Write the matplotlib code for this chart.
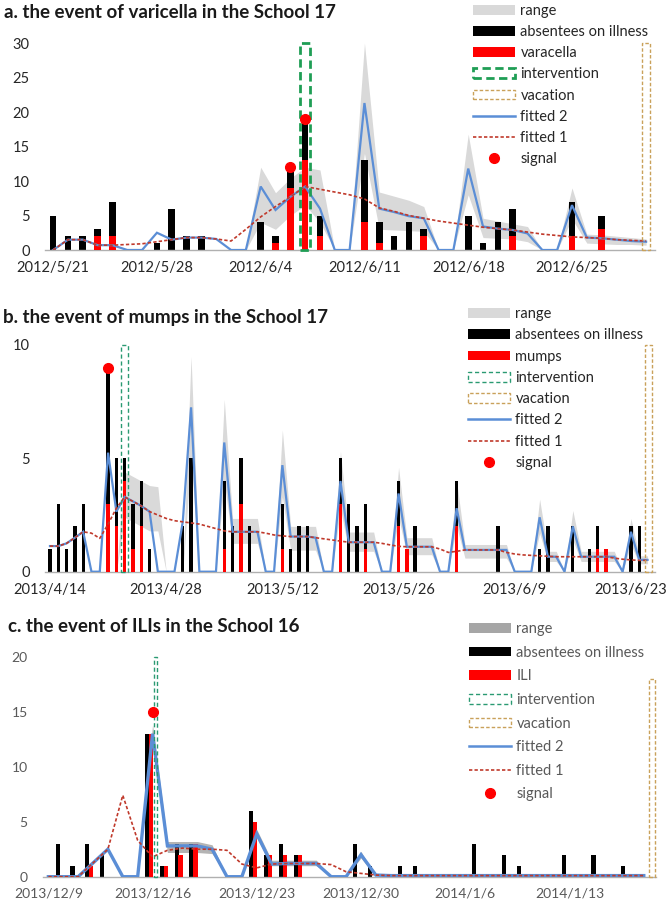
import matplotlib
matplotlib.use('Agg')
import matplotlib.pyplot as plt
from matplotlib.patches import Patch, Rectangle
from matplotlib.lines import Line2D
import numpy as np
import pandas as pd

plt.rcParams['font.family'] = ['Lato', 'DejaVu Sans']

W, H = 672, 907
BLUE = '#5b8ed6'
DRED = '#c0392b'

# ---------------- a. varicella, School 17 (daily from 2012/5/21) ----------------
start_a = '2012-05-21'
absent_a = [5, 2, 2, 3, 7, 0, 0,
            1, 6, 2, 2, 0, 0, 0,
            4, 2, 12, 19, 5, 0, 0,
            13, 4, 2, 4, 3, 0, 0,
            5, 1, 4, 6, 0, 0, 0,
            7, 0, 5, 0, 0, 0]
varic_a = [0, 0, 0, 2, 2, 0, 0,
           0, 0, 0, 0, 0, 0, 0,
           0, 1, 9, 13, 2, 0, 0,
           4, 1, 0, 0, 2, 0, 0,
           0, 0, 0, 2, 0, 0, 0,
           2, 0, 3, 0, 0, 0]
fit2_a = [0, 1.5, 1.5, 0.7, 0.7, 0, 0,
          2.5, 1.5, 1.8, 1.8, 1.6, 0, 0,
          9.2, 5.8, 7.7, 9.2, 6.0, 0, 0,
          21.3, 6.0, 5.5, 4.9, 4.6, 0, 0,
          11.8, 3.4, 3.1, 2.9, 2.4, 0, 0,
          6.5, 1.8, 1.7, 1.5, 1.3, 1.2]
fit1_a = [0, 1.5, 1.5, 0.7, 0.7, 0.8, 0.9,
          1.2, 1.5, 1.8, 1.8, 1.6, 1.3, 3.0,
          4.8, 6.3, 7.7, 9.2, 8.8, 8.4, 8.0,
          7.4, 6.1, 5.6, 5.0, 4.6, 4.2, 3.9,
          3.6, 3.3, 3.1, 2.9, 2.6, 2.3, 2.1,
          1.9, 1.8, 1.7, 1.5, 1.4, 1.3]
lo_a = [0, 0, 0, 0, 0, 0, 0,
        0, 0, 0, 0, 0, 0, 0,
        4.0, 3.0, 5.0, 6.5, 4.0, 0, 0,
        14.0, 3.0, 2.9, 2.8, 2.7, 0, 0,
        8.0, 1.8, 1.7, 1.6, 1.2, 0, 0,
        4.5, 1.0, 0.9, 0.8, 0.8, 0.7]
hi_a = [0, 0, 0, 0, 0, 0, 0,
        0, 0, 0, 0, 0, 0, 0,
        12.0, 8.3, 10.4, 12.0, 11.6, 0, 0,
        30.0, 8.4, 7.8, 7.2, 6.3, 0, 0,
        16.8, 4.6, 4.2, 3.8, 3.4, 0, 0,
        9.0, 2.3, 2.2, 2.0, 1.8, 1.6]
signal_day_a = [16, 17]
signal_val_a = [12, 19]
interv_a, interv_h_a = 17, 30
vac_a, vac_h_a = 40, 30
ticks_a = ['2012/5/21', '2012/5/28', '2012/6/4', '2012/6/11', '2012/6/18', '2012/6/25']

# ---------------- b. mumps, School 17 (daily from 2013/4/14) ----------------
start_b = '2013-04-14'
absent_b = [1, 3, 1, 2, 3, 0, 0,
            9, 5, 5, 3, 4, 1, 0,
            0, 0, 2, 5, 0, 0, 0,
            4, 2, 5, 2, 0, 0, 0,
            3, 1, 2, 2, 0, 0, 0,
            5, 3, 2, 3, 0, 0, 0,
            4, 1, 2, 0, 0, 0, 0,
            4, 0, 0, 0, 0, 2, 0,
            0, 0, 0, 1, 2, 0, 0,
            2, 0, 1, 2, 1, 0, 0,
            2, 2, 0]
mumps_b = [0, 0, 0, 0, 0, 0, 0,
           3, 2, 4, 1, 2, 0, 0,
           0, 0, 0, 0, 0, 0, 0,
           1, 0, 3, 0, 0, 0, 0,
           1, 0, 0, 0, 0, 0, 0,
           3, 0, 0, 1, 0, 0, 0,
           2, 1, 0, 0, 0, 0, 0,
           2, 0, 0, 0, 0, 0, 0,
           0, 0, 0, 0, 0, 0, 0,
           0, 0, 0, 1, 1, 0, 0,
           0, 0, 0]
fit2_b = [1.13, 1.13, 1.25, 1.5, 1.76, 0, 0,
          5.25, 2.65, 3.3, 3.1, 2.9, 2.65, 0,
          0, 0, 2.2, 7.25, 0, 0, 0,
          5.7, 1.76, 1.76, 1.76, 1.76, 0, 0,
          4.7, 1.55, 1.55, 1.55, 1.5, 0, 0,
          4.0, 1.3, 1.3, 1.3, 1.3, 0, 0,
          3.45, 1.1, 1.1, 1.1, 1.1, 0, 0,
          2.8, 0.96, 0.96, 0.96, 0.96, 0.96, 0.96,
          0, 0, 0, 2.4, 0.66, 0.66, 0,
          2.0, 0.66, 0.66, 0.66, 0.66, 0.66, 0,
          1.76, 0.52, 0.52]
fit1_b = [1.13, 1.13, 1.25, 1.5, 1.76, 1.7, 1.47,
          2.1, 2.8, 3.3, 3.1, 2.9, 2.65, 2.5,
          2.35, 2.25, 2.2, 2.15, 2.1, 2.0, 1.9,
          1.8, 1.76, 1.76, 1.76, 1.76, 1.7, 1.62,
          1.58, 1.55, 1.55, 1.55, 1.5, 1.45, 1.4,
          1.35, 1.3, 1.3, 1.3, 1.3, 1.25, 1.18,
          1.12, 1.1, 1.1, 1.1, 1.1, 1.0, 0.85,
          0.9, 0.96, 0.96, 0.96, 0.96, 0.96, 0.85,
          0.78, 0.74, 0.72, 0.7, 0.68, 0.66, 0.66,
          0.66, 0.66, 0.66, 0.66, 0.66, 0.6, 0.55,
          0.52, 0.5, 0.5]
lo_b = [0, 0, 0, 0, 0, 0, 0,
        0, 0, 2.4, 2.2, 2.0, 1.8, 1.8,
        0, 0, 0, 5.0, 0, 0, 0,
        4.0, 1.25, 1.25, 1.25, 1.25, 0, 0,
        3.3, 0.95, 0.95, 0.95, 0.95, 0, 0,
        2.8, 0.9, 0.9, 0.9, 0.9, 0, 0,
        2.4, 0.75, 0.75, 0.75, 0.75, 0, 0,
        2.0, 0.6, 0.6, 0.6, 0.6, 0.6, 0.6,
        0, 0, 0, 1.7, 0.45, 0.45, 0,
        1.4, 0.45, 0.45, 0.45, 0.45, 0.45, 0,
        1.2, 0.35, 0.35]
hi_b = [0, 0, 0, 0, 0, 0, 0,
        0, 0, 4.4, 4.2, 4.0, 3.8, 3.75,
        0, 0, 0, 9.5, 0, 0, 0,
        7.6, 2.35, 2.35, 2.35, 2.35, 0, 0,
        6.25, 2.0, 2.0, 2.0, 2.0, 0, 0,
        5.3, 1.75, 1.75, 1.75, 1.75, 0, 0,
        4.6, 1.5, 1.5, 1.5, 1.5, 0, 0,
        4.0, 1.2, 1.2, 1.2, 1.2, 1.2, 1.2,
        0, 0, 0, 3.2, 0.9, 0.9, 0,
        2.7, 0.9, 0.9, 0.9, 0.9, 0.9, 0,
        2.35, 0.7, 0.7]
signal_day_b = [7]
signal_val_b = [9]
interv_b, interv_h_b = 9, 10
vac_b, vac_h_b = 72, 10
ticks_b = ['2013/4/14', '2013/4/28', '2013/5/12', '2013/5/26', '2013/6/9', '2013/6/23']

# ---------------- c. ILIs, School 16 (daily from 2013/12/9) ----------------
start_c = '2013-12-09'
absent_c = [3, 1, 3, 2, 0, 0, 13,
            1, 3, 3, 0, 0, 0, 6,
            2, 3, 2, 0, 0, 0, 3,
            1, 0, 1, 1, 0, 0, 0,
            3, 0, 2, 1, 0, 0, 2,
            0, 2, 0, 1, 0, 0]
ili_c = [0, 0, 1, 0, 0, 0, 13,
         1, 2, 3, 0, 0, 0, 5,
         2, 2, 2, 0, 0, 0, 0,
         0, 0, 0, 0, 0, 0, 0,
         0, 0, 0, 0, 0, 0, 0,
         0, 0, 0, 0, 0, 0]
fit2_c = [0, 0, 0, 1.25, 2.5, 0, 0,
          13.0, 2.8, 2.8, 2.8, 2.5, 0, 0,
          3.9, 1.15, 1.2, 1.2, 1.2, 0, 0,
          2.0, 0.15, 0.1, 0.1, 0.1, 0.1, 0.1,
          0.1, 0.1, 0.1, 0.1, 0.1, 0.1, 0.1,
          0.1, 0.1, 0.1, 0.1, 0.1, 0.1]
fit1_c = [0, 0, 0, 1.25, 2.5, 7.4, 3.3,
          1.8, 2.4, 2.6, 2.5, 2.5, 2.4, 1.15,
          0.8, 1.15, 1.2, 1.2, 1.2, 1.1, 0.45,
          0.3, 0.15, 0.1, 0.1, 0.1, 0.1, 0.1,
          0.1, 0.1, 0.1, 0.1, 0.1, 0.1, 0.1,
          0.1, 0.1, 0.1, 0.1, 0.1, 0.1]
lo_c = [0, 0, 0, 0, 0, 0, 0,
        12.3, 2.2, 2.2, 2.2, 2.1, 0, 0,
        3.5, 1.0, 1.0, 1.0, 1.0, 0, 0,
        1.7, 0, 0, 0, 0, 0, 0,
        0, 0, 0, 0, 0, 0, 0,
        0, 0, 0, 0, 0, 0]
hi_c = [0, 0, 0, 0, 0, 0, 0,
        13.8, 3.2, 3.2, 3.2, 2.9, 0, 0,
        4.3, 1.5, 1.5, 1.5, 1.5, 0, 0,
        2.3, 0, 0, 0, 0, 0, 0,
        0, 0, 0, 0, 0, 0, 0,
        0, 0, 0, 0, 0, 0]
signal_day_c = [7]
signal_val_c = [15]
interv_c, interv_h_c = 7, 20
vac_c, vac_h_c = 40, 18
ticks_c = ['2013/12/9', '2013/12/16', '2013/12/23', '2013/12/30', '2014/1/6', '2014/1/13']


def rect(x, y, w, h):
    # pixel box (from top-left) -> figure fraction
    return [x / W, 1 - (y + h) / H, w / W, h / H]


def draw_panel(ax, start, absent, disease, fit2, fit1, lo, hi, sig_day, sig_val,
               interv, interv_h, vac, vac_h, tick_labels, yticks, xlim, st):
    days = np.arange(len(absent))
    dates = pd.date_range(start, periods=len(absent))

    ax.fill_between(days, lo, hi, color=st['band'], lw=0, zorder=1)
    ax.bar(days + st['boff'], absent, width=st['bw'], color='black', zorder=2)
    ax.bar(days + st['roff'], disease, width=st['bw'], color='#ff0000', zorder=3)
    ax.plot(days, fit2, color=BLUE, lw=st['lw2'], zorder=4, solid_joinstyle='miter')
    ax.plot(days, fit1, color=DRED, lw=1.2, ls=(0, (2, 1.3)), zorder=5)

    iw = st['iw']
    ax.add_patch(Rectangle((interv + st['ioff'] - iw / 2, 0), iw, interv_h, fill=False,
                           ec=st['icol'], lw=st['ilw'], ls=st['ils'], zorder=6, clip_on=False))
    vw = st['vw']
    ax.add_patch(Rectangle((vac + st['voff'] - vw / 2, 0), vw, vac_h, fill=False,
                           ec='#c9a15a', lw=1.0, ls=(0, (2.5, 1.5)), zorder=6, clip_on=False))
    ax.plot(sig_day, sig_val, 'o', color='#ff0000', ms=7, zorder=7, clip_on=False)

    ax.set_xlim(*xlim)
    ax.set_ylim(0, yticks[-1])
    ax.set_yticks(yticks)
    ax.set_xticks([dates.get_loc(pd.Timestamp(t)) for t in tick_labels])
    ax.set_xticklabels(tick_labels)
    for s in ['top', 'right', 'left']:
        ax.spines[s].set_visible(False)
    ax.spines['bottom'].set_color('#b0b0b0')
    ax.spines['bottom'].set_linewidth(1.0)
    ax.tick_params(length=0, labelsize=st['fs'], colors=st['tc'])
    ax.tick_params(axis='y', pad=11)
    ax.tick_params(axis='x', pad=8)
    ax.patch.set_alpha(0)


def legend(fig, label, st, x, y, spacing):
    handles = [
        Patch(fc=st['lband'], ec='none'),
        Patch(fc='black', ec='none'),
        Patch(fc='#ff0000', ec='none'),
        Patch(fc='white', ec=st['icol'], lw=st['ilw'], ls=st['ils']),
        Patch(fc='white', ec='#c9a15a', lw=1.0, ls=(0, (2.5, 1.5))),
        Line2D([], [], color=BLUE, lw=1.8),
        Line2D([], [], color=DRED, lw=1.2, ls=(0, (2, 1.3))),
        Line2D([], [], marker='o', color='#ff0000', ls='none', ms=7),
    ]
    labels = ['range', 'absentees on illness', label, 'intervention', 'vacation',
              'fitted 2', 'fitted 1', 'signal']
    leg = fig.legend(handles, labels, loc='upper left', bbox_to_anchor=(x / W, 1 - y / H),
                     frameon=False, fontsize=10.5, handlelength=2.9, handleheight=0.65,
                     handletextpad=0.35, labelspacing=spacing, borderpad=0, borderaxespad=0)
    for t in leg.get_texts():
        t.set_color(st['lc'])


fig = plt.figure(figsize=(W / 100, H / 100), dpi=100)

st_a = dict(band='#d9d9d9', lband='#d9d9d9', bw=0.45, boff=0, roff=0, lw2=1.6,
            iw=0.65, ioff=0, icol='#1f9e55', ilw=2.0, ils=(0, (3, 1.6)),
            vw=0.5, voff=0, fs=10.5, tc='#262626', lc='#262626')
st_b = dict(band='#d9d9d9', lband='#d9d9d9', bw=0.4, boff=0, roff=0, lw2=1.6,
            iw=0.8, ioff=0, icol='#2a9a72', ilw=1.0, ils=(0, (3, 2)),
            vw=0.8, voff=0.1, fs=10.5, tc='#262626', lc='#262626')
st_c = dict(band='#b4b4b4', lband='#a6a6a6', bw=0.28, boff=0.62, roff=0.88, lw2=2.4,
            iw=0.22, ioff=0.2, icol='#2a9a72', ilw=1.0, ils=(0, (3, 2)),
            vw=0.35, voff=0.55, fs=10, tc='#595959', lc='#595959')

ax_a = fig.add_axes(rect(45, 43, 610, 207))
draw_panel(ax_a, start_a, absent_a, varic_a, fit2_a, fit1_a, lo_a, hi_a,
           signal_day_a, signal_val_a, interv_a, interv_h_a, vac_a, vac_h_a,
           ticks_a, [0, 5, 10, 15, 20, 25, 30], (-0.55, 40.6), st_a)

ax_b = fig.add_axes(rect(45, 345, 610, 226.7))
draw_panel(ax_b, start_b, absent_b, mumps_b, fit2_b, fit1_b, lo_b, hi_b,
           signal_day_b, signal_val_b, interv_b, interv_h_b, vac_b, vac_h_b,
           ticks_b, [0, 5, 10], (-0.6, 72.9), st_b)

ax_c = fig.add_axes(rect(43, 656.7, 613, 220))
draw_panel(ax_c, start_c, absent_c, ili_c, fit2_c, fit1_c, lo_c, hi_c,
           signal_day_c, signal_val_c, interv_c, interv_h_c, vac_c, vac_h_c,
           ticks_c, [0, 5, 10, 15, 20], (-0.36, 40.82), st_c)

fig.text(4 / W, 1 - 13 / H, 'a. the event of varicella in the School 17',
         fontsize=13.5, fontweight='bold', va='center', color='#1a1a1a')
fig.text(3 / W, 1 - 318 / H, 'b. the event of mumps in the School 17',
         fontsize=13.5, fontweight='bold', va='center', color='#1a1a1a')
fig.text(8 / W, 1 - 627 / H, 'c. the event of ILIs in the School 16',
         fontsize=13.5, fontweight='bold', va='center', color='#1a1a1a')

legend(fig, 'varacella', st_a, 473, 4, 0.49)
legend(fig, 'mumps', st_b, 468, 307, 0.5)
legend(fig, 'ILI', st_c, 469, 622, 0.66)

fig.savefig('out.png', dpi=100)
